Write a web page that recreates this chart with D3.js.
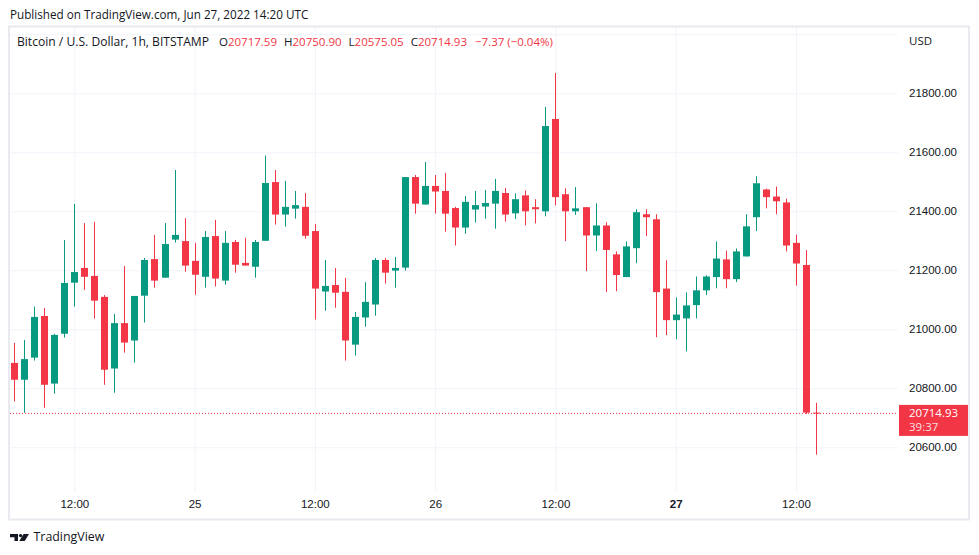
<!DOCTYPE html>
<html>
<head>
<meta charset="utf-8">
<script src="https://cdn.jsdelivr.net/npm/d3@7"></script>
<style>
  html, body { margin: 0; padding: 0; background: #fff; }
  svg { display: block; font-family: "Open Sans", sans-serif; }
  .axis text { fill: #131722; font-size: 11.5px; }
  .axis .domain, .axis line { display: none; }
  .grid line { stroke: #f0f3fa; stroke-width: 1; }
  .grid .domain, .grid text { display: none; }
</style>
</head>
<body>
<svg id="chart" width="979" height="555"></svg>
<script>
// hourly BTC/USD candles, Bitstamp, first candle 24 Jun 2022 06:00 UTC
const firstCandle = Date.UTC(2022, 5, 24, 6);
const opens = [
  20886, 20829, 20904, 21045, 20816, 20985, 21158, 21208, 21181, 21110,
  20867, 21021, 20962, 21114, 21238, 21175, 21304, 21299, 21232, 21178,
  21316, 21165, 21296, 21225, 21212, 21300, 21499, 21389, 21409, 21415,
  21333, 21128, 21150, 21127, 20948, 21040, 21084, 21235, 21199, 21209,
  21516, 21423, 21486, 21469, 21411, 21345, 21406, 21416, 21426, 21462,
  21393, 21454, 21414, 21400, 21713, 21458, 21400, 21414, 21318, 21352,
  21254, 21177, 21275, 21390, 21373, 21138, 21031, 21037, 21082, 21132,
  21177, 21237, 21170, 21247, 21380, 21474, 21450, 21430, 21293, 21218,
  20717.59
];
const highs = [
  20954, 20964, 21077, 21072, 20985, 21303, 21425, 21360, 21364, 21116,
  21052, 21215, 21113, 21242, 21320, 21360, 21540, 21377, 21293, 21333,
  21371, 21333, 21303, 21310, 21303, 21589, 21540, 21503, 21469, 21462,
  21357, 21235, 21208, 21174, 21059, 21160, 21242, 21242, 21245, 21516,
  21523, 21567, 21523, 21530, 21415, 21452, 21469, 21472, 21510, 21479,
  21461, 21471, 21441, 21754, 21869, 21478, 21482, 21414, 21427, 21363,
  21264, 21298, 21407, 21407, 21390, 21234, 21108, 21125, 21179, 21183,
  21298, 21267, 21274, 21390, 21519, 21477, 21484, 21443, 21321, 21269,
  20750.90
];
const lows = [
  20755, 20717, 20894, 20734, 20782, 20972, 21077, 21134, 21036, 20812,
  20785, 20921, 20887, 21023, 21141, 21175, 21294, 21195, 21117, 21141,
  21145, 21151, 21192, 21216, 21175, 21300, 21355, 21348, 21375, 21307,
  21033, 21063, 21073, 20894, 20911, 21009, 21046, 21155, 21141, 21199,
  21392, 21423, 21392, 21331, 21284, 21324, 21362, 21375, 21341, 21365,
  21374, 21352, 21359, 21383, 21420, 21299, 21388, 21197, 21265, 21126,
  21129, 21177, 21224, 21316, 20973, 20980, 20966, 20925, 21037, 21116,
  21139, 21139, 21160, 21247, 21333, 21410, 21390, 21264, 21148, 20713,
  20575.05
];
const closes = [
  20829, 20899, 21042, 20812, 20981, 21157, 21194, 21178, 21097, 20863,
  21021, 20955, 21113, 21235, 21165, 21289, 21320, 21216, 21185, 21313,
  21172, 21293, 21219, 21216, 21296, 21496, 21389, 21415, 21421, 21317,
  21138, 21147, 21124, 20962, 21042, 21093, 21235, 21192, 21208, 21516,
  21426, 21486, 21467, 21392, 21345, 21432, 21421, 21428, 21469, 21389,
  21441, 21400, 21407, 21689, 21448, 21400, 21410, 21318, 21352, 21269,
  21184, 21281, 21397, 21380, 21126, 21031, 21050, 21081, 21132, 21179,
  21240, 21170, 21264, 21349, 21495, 21448, 21434, 21284, 21223, 20717.59,
  20714.93
];

const priceTicks = [20600, 20800, 21000, 21200, 21400, 21600, 21800];
const gridPrices = [20600, 20800, 21000, 21200, 21400, 21600, 21800, 22000];
const timeTicks = [
  Date.UTC(2022, 5, 24, 12), Date.UTC(2022, 5, 25, 0), Date.UTC(2022, 5, 25, 12),
  Date.UTC(2022, 5, 26, 0), Date.UTC(2022, 5, 26, 12), Date.UTC(2022, 5, 27, 0),
  Date.UTC(2022, 5, 27, 12)
];
const timeLabels = ["12:00", "25", "12:00", "26", "12:00", "27", "12:00"];

const lastPrice = 20714.93;
const countdown = "39:37";
const upColor = "#089981";
const downColor = "#f23645";

const candles = opens.map((o, i) => ({
  t: new Date(firstCandle + i * 3600e3),
  o: o, h: highs[i], l: lows[i], c: closes[i]
}));

const pane = {left: 10, right: 898, top: 27, bottom: 492};

const svg = d3.select("#chart");

const xScale = d3.scaleUtc()
  .domain([new Date(timeTicks[0]), new Date(timeTicks[timeTicks.length - 1])])
  .range([74.3, 796]);

const yScale = d3.scaleLinear()
  .domain([20600, 21800])
  .range([447.3, 93.3]);

svg.append("rect")
  .attr("width", 979).attr("height", 555).attr("fill", "#fff");

svg.append("text")
  .attr("x", 10).attr("y", 19)
  .attr("font-size", "11.7px").attr("fill", "#131722")
  .text("Published on TradingView.com, Jun 27, 2022 14:20 UTC");

// grid
svg.append("g")
  .attr("class", "grid")
  .attr("transform", `translate(0,${pane.bottom})`)
  .call(d3.axisBottom(xScale)
    .tickValues(timeTicks.map(d => new Date(d)))
    .tickSize(-(pane.bottom - pane.top)));

svg.append("g")
  .attr("class", "grid")
  .attr("transform", `translate(${pane.right},0)`)
  .call(d3.axisLeft(yScale)
    .tickValues(gridPrices)
    .tickSize(pane.right - pane.left));

// candles
const candleG = svg.append("g");
const bodyW = 7;

candleG.selectAll(".wick")
  .data(candles)
  .join("line")
  .attr("class", "wick")
  .attr("x1", d => Math.round(xScale(d.t)) + 0.5)
  .attr("x2", d => Math.round(xScale(d.t)) + 0.5)
  .attr("y1", d => yScale(d.h))
  .attr("y2", d => yScale(d.l))
  .attr("stroke", d => d.c >= d.o ? upColor : downColor)
  .attr("stroke-width", 1);

candleG.selectAll(".body")
  .data(candles)
  .join("rect")
  .attr("class", "body")
  .attr("x", d => Math.round(xScale(d.t)) + 0.5 - bodyW / 2)
  .attr("width", bodyW)
  .attr("y", d => yScale(Math.max(d.o, d.c)))
  .attr("height", d => Math.max(1, Math.abs(yScale(d.o) - yScale(d.c))))
  .attr("fill", d => d.c >= d.o ? upColor : downColor);

// last price line
svg.append("line")
  .attr("x1", pane.left).attr("x2", pane.right)
  .attr("y1", yScale(lastPrice)).attr("y2", yScale(lastPrice))
  .attr("stroke", downColor)
  .attr("stroke-width", 1)
  .attr("stroke-dasharray", "1,2");

// axes
svg.append("g")
  .attr("class", "axis")
  .attr("transform", `translate(0,${pane.bottom})`)
  .call(d3.axisBottom(xScale)
    .tickValues(timeTicks.map(d => new Date(d)))
    .tickFormat((d, i) => timeLabels[i])
    .tickSize(0)
    .tickPadding(8))
  .selectAll("text")
  .attr("font-weight", (d, i) => timeLabels[i] === "27" ? "bold" : null);

svg.append("g")
  .attr("class", "axis")
  .attr("transform", `translate(${pane.right + 11},0)`)
  .call(d3.axisRight(yScale)
    .tickValues(priceTicks)
    .tickFormat(d3.format(".2f"))
    .tickSize(0)
    .tickPadding(0));

svg.append("text")
  .attr("x", pane.right + 11).attr("y", 41)
  .attr("dy", "0.32em")
  .attr("font-size", "11.5px").attr("fill", "#131722")
  .text("USD");

// price badge
const badgeY = yScale(lastPrice);
svg.append("rect")
  .attr("x", pane.right + 1).attr("y", badgeY - 8.5)
  .attr("width", 70).attr("height", 31)
  .attr("fill", downColor);

svg.append("text")
  .attr("x", pane.right + 11).attr("y", badgeY)
  .attr("dy", "0.32em")
  .attr("font-size", "11.5px").attr("fill", "#fff")
  .text(d3.format(".2f")(lastPrice));

svg.append("text")
  .attr("x", pane.right + 11).attr("y", badgeY + 14)
  .attr("dy", "0.32em")
  .attr("font-size", "11.5px").attr("fill", "#fff").attr("fill-opacity", 0.85)
  .text(countdown);

// legend
const legend = svg.append("text")
  .attr("x", 17).attr("y", 42)
  .attr("dy", "0.32em")
  .attr("font-size", "11.5px").attr("fill", "#131722");

legend.append("tspan").attr("font-size", "12.1px").text("Bitcoin / U.S. Dollar, 1h, BITSTAMP");
const last = candles[candles.length - 1];
[["O", last.o], ["H", last.h], ["L", last.l], ["C", last.c]].forEach(([k, v], i) => {
  legend.append("tspan").attr("dx", i === 0 ? 10 : 7).text(k);
  legend.append("tspan").attr("fill", downColor).text(d3.format(".2f")(v));
});
legend.append("tspan").attr("dx", 8).attr("fill", downColor)
  .text("\u22127.37 (\u22120.04%)");

// frame
svg.append("rect")
  .attr("x", 9).attr("y", 26.5)
  .attr("width", 960).attr("height", 493)
  .attr("fill", "none")
  .attr("stroke", "#e9eaef")
  .attr("stroke-width", 2);

// footer logo
const logo = svg.append("g").attr("fill", "#131722");
logo.append("path").attr("d", "M10,534 H18 V541 H14.5 V537.2 H10 Z");
logo.append("circle").attr("cx", 20.6).attr("cy", 535.6).attr("r", 1.7);
logo.append("path").attr("d", "M19.3,541 L23.6,534 H29 L24.7,541 Z");

svg.append("text")
  .attr("x", 33.5).attr("y", 541)
  .attr("font-size", "12.4px").attr("fill", "#131722")
  .text("TradingView");
</script>
</body>
</html>
